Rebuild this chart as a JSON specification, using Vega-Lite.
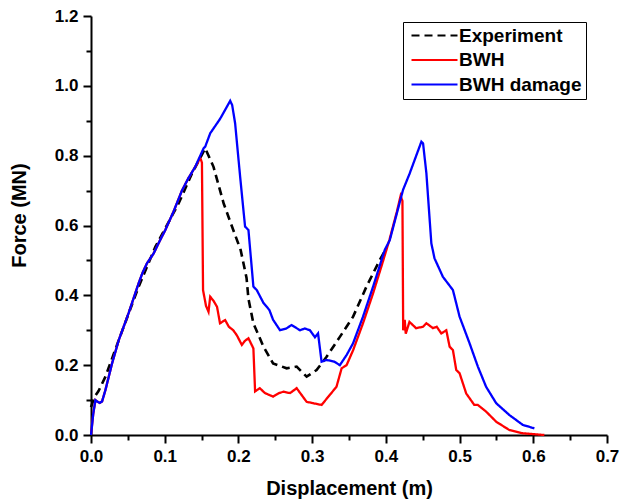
{
  "$schema": "https://vega.github.io/schema/vega-lite/v6.json",
  "width": 516,
  "height": 419,
  "autosize": {"type": "none"},
  "padding": {"left": 91, "top": 16, "right": 16, "bottom": 67},
  "background": "white",
  "config": {
    "view": {"stroke": null},
    "axis": {
      "domainColor": "black", "domainWidth": 2, "tickColor": "black", "tickWidth": 2,
      "labelFont": "Liberation Sans", "labelFontWeight": "bold", "labelFontSize": 17, "labelColor": "black",
      "titleFont": "Liberation Sans", "titleFontWeight": "bold", "titleFontSize": 20, "titleColor": "black",
      "grid": false
    }
  },
  "data": {
    "values": [
      {"series": "Experiment", "disp": 0.0, "force": 0.08},
      {"series": "Experiment", "disp": 0.005, "force": 0.11},
      {"series": "Experiment", "disp": 0.01, "force": 0.125},
      {"series": "Experiment", "disp": 0.0196, "force": 0.167},
      {"series": "Experiment", "disp": 0.0377, "force": 0.272},
      {"series": "Experiment", "disp": 0.0647, "force": 0.425},
      {"series": "Experiment", "disp": 0.0873, "force": 0.539},
      {"series": "Experiment", "disp": 0.1188, "force": 0.663},
      {"series": "Experiment", "disp": 0.137, "force": 0.749},
      {"series": "Experiment", "disp": 0.155, "force": 0.821},
      {"series": "Experiment", "disp": 0.1662, "force": 0.768},
      {"series": "Experiment", "disp": 0.18, "force": 0.663},
      {"series": "Experiment", "disp": 0.193, "force": 0.587},
      {"series": "Experiment", "disp": 0.203, "force": 0.53},
      {"series": "Experiment", "disp": 0.211, "force": 0.45},
      {"series": "Experiment", "disp": 0.2136, "force": 0.39},
      {"series": "Experiment", "disp": 0.2203, "force": 0.32},
      {"series": "Experiment", "disp": 0.234, "force": 0.253},
      {"series": "Experiment", "disp": 0.247, "force": 0.205},
      {"series": "Experiment", "disp": 0.2654, "force": 0.191},
      {"series": "Experiment", "disp": 0.279, "force": 0.196},
      {"series": "Experiment", "disp": 0.2925, "force": 0.167},
      {"series": "Experiment", "disp": 0.306, "force": 0.186},
      {"series": "Experiment", "disp": 0.3196, "force": 0.224},
      {"series": "Experiment", "disp": 0.3376, "force": 0.281},
      {"series": "Experiment", "disp": 0.3556, "force": 0.339},
      {"series": "Experiment", "disp": 0.3737, "force": 0.425},
      {"series": "Experiment", "disp": 0.3917, "force": 0.501},
      {"series": "Experiment", "disp": 0.401, "force": 0.536},

      {"series": "BWH", "disp": 0.0, "force": 0.0},
      {"series": "BWH", "disp": 0.003, "force": 0.06},
      {"series": "BWH", "disp": 0.006, "force": 0.1},
      {"series": "BWH", "disp": 0.009, "force": 0.095},
      {"series": "BWH", "disp": 0.012, "force": 0.092},
      {"series": "BWH", "disp": 0.015, "force": 0.096},
      {"series": "BWH", "disp": 0.0196, "force": 0.129},
      {"series": "BWH", "disp": 0.0287, "force": 0.206},
      {"series": "BWH", "disp": 0.0377, "force": 0.272},
      {"series": "BWH", "disp": 0.051, "force": 0.349},
      {"series": "BWH", "disp": 0.0647, "force": 0.435},
      {"series": "BWH", "disp": 0.07, "force": 0.465},
      {"series": "BWH", "disp": 0.076, "force": 0.492},
      {"series": "BWH", "disp": 0.085, "force": 0.52},
      {"series": "BWH", "disp": 0.093, "force": 0.555},
      {"series": "BWH", "disp": 0.1008, "force": 0.587},
      {"series": "BWH", "disp": 0.112, "force": 0.64},
      {"series": "BWH", "disp": 0.1234, "force": 0.7},
      {"series": "BWH", "disp": 0.132, "force": 0.735},
      {"series": "BWH", "disp": 0.1414, "force": 0.768},
      {"series": "BWH", "disp": 0.145, "force": 0.78},
      {"series": "BWH", "disp": 0.148, "force": 0.795},
      {"series": "BWH", "disp": 0.1505, "force": 0.78},
      {"series": "BWH", "disp": 0.152, "force": 0.415},
      {"series": "BWH", "disp": 0.156, "force": 0.37},
      {"series": "BWH", "disp": 0.1594, "force": 0.353},
      {"series": "BWH", "disp": 0.1617, "force": 0.396},
      {"series": "BWH", "disp": 0.166, "force": 0.385},
      {"series": "BWH", "disp": 0.171, "force": 0.367},
      {"series": "BWH", "disp": 0.175, "force": 0.32},
      {"series": "BWH", "disp": 0.182, "force": 0.329},
      {"series": "BWH", "disp": 0.187, "force": 0.31},
      {"series": "BWH", "disp": 0.193, "force": 0.3},
      {"series": "BWH", "disp": 0.198, "force": 0.285},
      {"series": "BWH", "disp": 0.2046, "force": 0.258},
      {"series": "BWH", "disp": 0.209, "force": 0.27},
      {"series": "BWH", "disp": 0.2136, "force": 0.277},
      {"series": "BWH", "disp": 0.2203, "force": 0.248},
      {"series": "BWH", "disp": 0.2226, "force": 0.125},
      {"series": "BWH", "disp": 0.229, "force": 0.134},
      {"series": "BWH", "disp": 0.236, "force": 0.12},
      {"series": "BWH", "disp": 0.247, "force": 0.11},
      {"series": "BWH", "disp": 0.255, "force": 0.12},
      {"series": "BWH", "disp": 0.261, "force": 0.124},
      {"series": "BWH", "disp": 0.27, "force": 0.12},
      {"series": "BWH", "disp": 0.279, "force": 0.134},
      {"series": "BWH", "disp": 0.2925, "force": 0.095},
      {"series": "BWH", "disp": 0.3015, "force": 0.091},
      {"series": "BWH", "disp": 0.3128, "force": 0.086},
      {"series": "BWH", "disp": 0.324, "force": 0.115},
      {"series": "BWH", "disp": 0.333, "force": 0.138},
      {"series": "BWH", "disp": 0.34, "force": 0.191},
      {"series": "BWH", "disp": 0.3467, "force": 0.2},
      {"series": "BWH", "disp": 0.3556, "force": 0.243},
      {"series": "BWH", "disp": 0.369, "force": 0.32},
      {"series": "BWH", "disp": 0.3827, "force": 0.406},
      {"series": "BWH", "disp": 0.395, "force": 0.49},
      {"series": "BWH", "disp": 0.405, "force": 0.56},
      {"series": "BWH", "disp": 0.415, "force": 0.64},
      {"series": "BWH", "disp": 0.42, "force": 0.685},
      {"series": "BWH", "disp": 0.4225, "force": 0.67},
      {"series": "BWH", "disp": 0.4235, "force": 0.3},
      {"series": "BWH", "disp": 0.4256, "force": 0.33},
      {"series": "BWH", "disp": 0.427, "force": 0.29},
      {"series": "BWH", "disp": 0.432, "force": 0.324},
      {"series": "BWH", "disp": 0.441, "force": 0.306},
      {"series": "BWH", "disp": 0.4504, "force": 0.31},
      {"series": "BWH", "disp": 0.455, "force": 0.32},
      {"series": "BWH", "disp": 0.464, "force": 0.306},
      {"series": "BWH", "disp": 0.469, "force": 0.31},
      {"series": "BWH", "disp": 0.4752, "force": 0.291},
      {"series": "BWH", "disp": 0.482, "force": 0.3},
      {"series": "BWH", "disp": 0.4865, "force": 0.253},
      {"series": "BWH", "disp": 0.491, "force": 0.243},
      {"series": "BWH", "disp": 0.4955, "force": 0.186},
      {"series": "BWH", "disp": 0.5, "force": 0.177},
      {"series": "BWH", "disp": 0.509, "force": 0.119},
      {"series": "BWH", "disp": 0.52, "force": 0.086},
      {"series": "BWH", "disp": 0.5248, "force": 0.086},
      {"series": "BWH", "disp": 0.536, "force": 0.067},
      {"series": "BWH", "disp": 0.5497, "force": 0.038},
      {"series": "BWH", "disp": 0.5677, "force": 0.014},
      {"series": "BWH", "disp": 0.5857, "force": 0.005},
      {"series": "BWH", "disp": 0.615, "force": 0.0},

      {"series": "BWH damage", "disp": 0.0, "force": 0.0},
      {"series": "BWH damage", "disp": 0.003, "force": 0.06},
      {"series": "BWH damage", "disp": 0.006, "force": 0.1},
      {"series": "BWH damage", "disp": 0.009, "force": 0.095},
      {"series": "BWH damage", "disp": 0.012, "force": 0.092},
      {"series": "BWH damage", "disp": 0.015, "force": 0.096},
      {"series": "BWH damage", "disp": 0.0196, "force": 0.129},
      {"series": "BWH damage", "disp": 0.0287, "force": 0.206},
      {"series": "BWH damage", "disp": 0.0377, "force": 0.272},
      {"series": "BWH damage", "disp": 0.051, "force": 0.349},
      {"series": "BWH damage", "disp": 0.0647, "force": 0.435},
      {"series": "BWH damage", "disp": 0.07, "force": 0.465},
      {"series": "BWH damage", "disp": 0.076, "force": 0.492},
      {"series": "BWH damage", "disp": 0.085, "force": 0.52},
      {"series": "BWH damage", "disp": 0.093, "force": 0.555},
      {"series": "BWH damage", "disp": 0.1008, "force": 0.587},
      {"series": "BWH damage", "disp": 0.112, "force": 0.64},
      {"series": "BWH damage", "disp": 0.1234, "force": 0.7},
      {"series": "BWH damage", "disp": 0.132, "force": 0.735},
      {"series": "BWH damage", "disp": 0.1414, "force": 0.768},
      {"series": "BWH damage", "disp": 0.1527, "force": 0.821},
      {"series": "BWH damage", "disp": 0.155, "force": 0.826},
      {"series": "BWH damage", "disp": 0.1617, "force": 0.864},
      {"series": "BWH damage", "disp": 0.175, "force": 0.905},
      {"series": "BWH damage", "disp": 0.1888, "force": 0.957},
      {"series": "BWH damage", "disp": 0.1915, "force": 0.945},
      {"series": "BWH damage", "disp": 0.1955, "force": 0.893},
      {"series": "BWH damage", "disp": 0.2023, "force": 0.74},
      {"series": "BWH damage", "disp": 0.209, "force": 0.597},
      {"series": "BWH damage", "disp": 0.2136, "force": 0.587},
      {"series": "BWH damage", "disp": 0.2203, "force": 0.425},
      {"series": "BWH damage", "disp": 0.2249, "force": 0.415},
      {"series": "BWH damage", "disp": 0.234, "force": 0.378},
      {"series": "BWH damage", "disp": 0.242, "force": 0.358},
      {"series": "BWH damage", "disp": 0.247, "force": 0.33},
      {"series": "BWH damage", "disp": 0.2564, "force": 0.3},
      {"series": "BWH damage", "disp": 0.265, "force": 0.305},
      {"series": "BWH damage", "disp": 0.272, "force": 0.315},
      {"series": "BWH damage", "disp": 0.2835, "force": 0.3},
      {"series": "BWH damage", "disp": 0.29, "force": 0.305},
      {"series": "BWH damage", "disp": 0.297, "force": 0.3},
      {"series": "BWH damage", "disp": 0.3038, "force": 0.28},
      {"series": "BWH damage", "disp": 0.308, "force": 0.291},
      {"series": "BWH damage", "disp": 0.3128, "force": 0.21},
      {"series": "BWH damage", "disp": 0.3196, "force": 0.215},
      {"series": "BWH damage", "disp": 0.33, "force": 0.21},
      {"series": "BWH damage", "disp": 0.3376, "force": 0.2},
      {"series": "BWH damage", "disp": 0.3467, "force": 0.229},
      {"series": "BWH damage", "disp": 0.3556, "force": 0.263},
      {"series": "BWH damage", "disp": 0.369, "force": 0.339},
      {"series": "BWH damage", "disp": 0.3827, "force": 0.425},
      {"series": "BWH damage", "disp": 0.3985, "force": 0.53},
      {"series": "BWH damage", "disp": 0.4053, "force": 0.558},
      {"series": "BWH damage", "disp": 0.4233, "force": 0.702},
      {"series": "BWH damage", "disp": 0.4323, "force": 0.749},
      {"series": "BWH damage", "disp": 0.4482, "force": 0.84},
      {"series": "BWH damage", "disp": 0.4505, "force": 0.835},
      {"series": "BWH damage", "disp": 0.455, "force": 0.749},
      {"series": "BWH damage", "disp": 0.4617, "force": 0.549},
      {"series": "BWH damage", "disp": 0.466, "force": 0.506},
      {"series": "BWH damage", "disp": 0.4774, "force": 0.453},
      {"series": "BWH damage", "disp": 0.491, "force": 0.415},
      {"series": "BWH damage", "disp": 0.5, "force": 0.339},
      {"series": "BWH damage", "disp": 0.5135, "force": 0.263},
      {"series": "BWH damage", "disp": 0.5248, "force": 0.196},
      {"series": "BWH damage", "disp": 0.536, "force": 0.138},
      {"series": "BWH damage", "disp": 0.5497, "force": 0.091},
      {"series": "BWH damage", "disp": 0.5677, "force": 0.057},
      {"series": "BWH damage", "disp": 0.5857, "force": 0.029},
      {"series": "BWH damage", "disp": 0.6015, "force": 0.019}
    ]
  },
  "encoding": {
    "x": {"field": "disp", "type": "quantitative", "scale": {"domain": [0, 0.7], "nice": false, "zero": false}, "axis": null},
    "y": {"field": "force", "type": "quantitative", "scale": {"domain": [0, 1.2], "nice": false, "zero": false}, "axis": null},
    "color": {
      "field": "series", "type": "nominal",
      "scale": {"domain": ["Experiment", "BWH", "BWH damage"], "range": ["#000000", "#ff0000", "#0000ff"]},
      "legend": {
        "title": null, "orient": "none", "legendX": 312, "legendY": 6,
        "strokeColor": "#000000", "fillColor": "white", "padding": 4,
        "labelFont": "Liberation Sans", "labelFontSize": 19, "labelFontWeight": "bold", "labelColor": "black",
        "symbolType": "M-1,0H8.2", "symbolSize": 100, "symbolStrokeWidth": 2.2,
        "rowPadding": 4.5, "labelOffset": 33
      }
    },
    "strokeDash": {
      "field": "series", "type": "nominal",
      "scale": {"domain": ["Experiment", "BWH", "BWH damage"], "range": [[8, 5], [1, 0], [1, 0]]},
      "legend": {
        "title": null, "orient": "none", "legendX": 312, "legendY": 6,
        "strokeColor": "#000000", "fillColor": "white", "padding": 4,
        "labelFont": "Liberation Sans", "labelFontSize": 19, "labelFontWeight": "bold", "labelColor": "black",
        "symbolType": "M-1,0H8.2", "symbolSize": 100, "symbolStrokeWidth": 2.2,
        "rowPadding": 4.5, "labelOffset": 33
      }
    }
  },
  "layer": [
    {
      "transform": [{"filter": "datum.series === 'Experiment'"}],
      "mark": {"type": "line", "strokeWidth": 2.6},
      "encoding": {
        "x": {"field": "disp", "type": "quantitative", "scale": {"domain": [0, 0.7], "nice": false, "zero": false},
          "axis": {"orient": "bottom", "values": [0, 0.1, 0.2, 0.3, 0.4, 0.5, 0.6, 0.7], "format": ".1f", "tickSize": 8, "labelPadding": 5, "labelOverlap": false, "labelFlush": false, "title": "Displacement (m)", "titlePadding": 14}},
        "y": {"field": "force", "type": "quantitative", "scale": {"domain": [0, 1.2], "nice": false, "zero": false},
          "axis": {"orient": "left", "values": [0, 0.2, 0.4, 0.6, 0.8, 1.0, 1.2], "format": ".1f", "tickSize": 8, "labelPadding": 5, "labelOverlap": false, "labelFlush": false, "title": "Force (MN)", "titleX": -62, "titleY": 199}}
      }
    },
    {
      "transform": [{"filter": "datum.series === 'BWH'"}],
      "mark": {"type": "line", "strokeWidth": 2.3},
      "encoding": {}
    },
    {
      "transform": [{"filter": "datum.series === 'BWH damage'"}],
      "mark": {"type": "line", "strokeWidth": 2.3},
      "encoding": {}
    },
    {
      "transform": [{"filter": "datum.series === 'BWH damage'"}],
      "mark": {"type": "point", "opacity": 0},
      "encoding": {
        "x": {"field": "disp", "type": "quantitative", "scale": {"domain": [0, 0.7], "nice": false, "zero": false},
          "axis": {"orient": "bottom", "values": [0.05, 0.15, 0.25, 0.35, 0.45, 0.55, 0.65], "tickSize": 5, "labels": false, "domain": false, "title": null}},
        "y": {"field": "force", "type": "quantitative", "scale": {"domain": [0, 1.2], "nice": false, "zero": false},
          "axis": {"orient": "left", "values": [0.1, 0.3, 0.5, 0.7, 0.9, 1.1], "tickSize": 5, "labels": false, "domain": false, "title": null}}
      }
    }
  ],
  "resolve": {"axis": {"x": "independent", "y": "independent"}}
}
